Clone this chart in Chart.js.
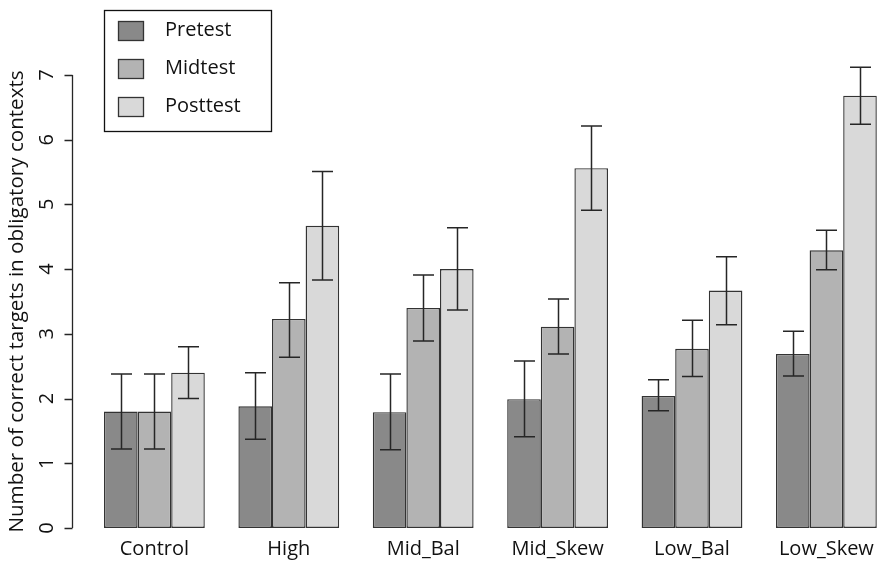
<!DOCTYPE html>
<html>
<head>
<meta charset="utf-8">
<script src="https://cdn.jsdelivr.net/npm/chart.js@4"></script>
<style>
  html, body { margin: 0; padding: 0; background: #fff; overflow: hidden; }
  #wrap { width: 878px; height: 565px; overflow: hidden; position: relative; }
  #scoreChart { position: absolute; left: 0; top: 0; }
</style>
</head>
<body>
<div id="wrap"><canvas id="scoreChart" width="920" height="565"></canvas></div>
<script>
const categories = ['Control', 'High', 'Mid_Bal', 'Mid_Skew', 'Low_Bal', 'Low_Skew'];
const seriesNames = ['Pretest', 'Midtest', 'Posttest'];
const seriesColors = ['#898989', '#b3b3b3', '#d9d9d9'];

const pretest = [1.80, 1.88, 1.79, 1.99, 2.04, 2.69];
const midtest = [1.80, 3.23, 3.40, 3.11, 2.77, 4.29];
const posttest = [2.40, 4.67, 4.00, 5.56, 3.67, 6.68];

// error bar ends
const pretestLow = [1.22, 1.37, 1.21, 1.41, 1.81, 2.35];
const pretestHigh = [2.38, 2.40, 2.38, 2.58, 2.29, 3.04];
const midtestLow = [1.22, 2.64, 2.89, 2.69, 2.34, 3.99];
const midtestHigh = [2.38, 3.79, 3.91, 3.54, 3.21, 4.60];
const posttestLow = [2.00, 3.83, 3.37, 4.91, 3.14, 6.24];
const posttestHigh = [2.80, 5.51, 4.64, 6.21, 4.19, 7.12];

const yTicks = [0, 1, 2, 3, 4, 5, 6, 7];
const yTitle = 'Number of correct targets in obligatory contexts';

const FONT = '"Open Sans", "Noto Sans", sans-serif';
const INK = '#262626';

const errLow = [pretestLow, midtestLow, posttestLow];
const errHigh = [pretestHigh, midtestHigh, posttestHigh];

// whiskers, axis, labels and legend drawn on top of the bars
const extras = {
    id: 'extras',
    afterDatasetsDraw(chart) {
        const ctx = chart.ctx;
        const y = chart.scales.y;
        const x = chart.scales.x;
        ctx.save();

        // error bars
        ctx.strokeStyle = INK;
        ctx.lineWidth = 1.5;
        chart.data.datasets.forEach((ds, d) => {
            const meta = chart.getDatasetMeta(d);
            meta.data.forEach((bar, i) => {
                const yl = y.getPixelForValue(errLow[d][i]);
                const yh = y.getPixelForValue(errHigh[d][i]);
                const cx = Math.round(bar.x) + 0.5;
                ctx.beginPath();
                ctx.moveTo(cx, yl);
                ctx.lineTo(cx, yh);
                ctx.moveTo(cx - 10.5, yh);
                ctx.lineTo(cx + 10.5, yh);
                ctx.moveTo(cx - 10.5, yl);
                ctx.lineTo(cx + 10.5, yl);
                ctx.stroke();
            });
        });

        // y axis
        const axisX = 72.5;
        ctx.lineWidth = 1.3;
        ctx.beginPath();
        ctx.moveTo(axisX, y.getPixelForValue(yTicks[0]));
        ctx.lineTo(axisX, y.getPixelForValue(yTicks[yTicks.length - 1]));
        yTicks.forEach(t => {
            const py = Math.round(y.getPixelForValue(t)) + 0.5;
            ctx.moveTo(axisX, py);
            ctx.lineTo(axisX - 8, py);
        });
        ctx.stroke();

        ctx.fillStyle = '#111';
        ctx.font = '20px ' + FONT;
        ctx.textAlign = 'center';
        ctx.textBaseline = 'middle';
        yTicks.forEach(t => {
            ctx.save();
            ctx.translate(47, y.getPixelForValue(t));
            ctx.rotate(-Math.PI / 2);
            ctx.fillText(String(t), 0, 0);
            ctx.restore();
        });

        ctx.save();
        ctx.font = '20.6px ' + FONT;
        ctx.translate(17, (y.getPixelForValue(0) + y.getPixelForValue(7)) / 2);
        ctx.rotate(-Math.PI / 2);
        ctx.fillText(yTitle, 0, 0);
        ctx.restore();

        // category labels
        categories.forEach((c, i) => {
            ctx.fillText(c, x.getPixelForValue(i), 549);
        });

        // legend
        ctx.lineWidth = 1.3;
        ctx.strokeStyle = '#111';
        ctx.strokeRect(104.5, 10.5, 167, 121);
        seriesNames.forEach((name, k) => {
            const top = 21.5 + k * 38;
            ctx.fillStyle = seriesColors[k];
            ctx.fillRect(118.5, top, 25, 19);
            ctx.strokeStyle = '#333';
            ctx.strokeRect(118.5, top, 25, 19);
            ctx.fillStyle = '#111';
            ctx.textAlign = 'left';
            ctx.fillText(name, 165, top + 9);
        });

        ctx.restore();
    }
};

const seriesValues = [pretest, midtest, posttest];

new Chart(document.getElementById('scoreChart').getContext('2d'), {
    type: 'bar',
    data: {
        labels: categories,
        datasets: seriesNames.map((name, k) => ({
            label: name,
            data: seriesValues[k],
            backgroundColor: seriesColors[k],
            borderColor: '#333333',
            borderWidth: 1.4,
            borderSkipped: false,
            categoryPercentage: 0.75,
            barPercentage: 1.0
        }))
    },
    options: {
        responsive: false,
        animation: false,
        layout: {
            padding: { left: 87.2, right: 26.4, top: 42.6, bottom: 37 }
        },
        plugins: {
            legend: { display: false },
            tooltip: { enabled: false }
        },
        scales: {
            x: { display: false },
            y: { display: false, min: 0, max: 7.5 }
        }
    },
    plugins: [extras]
});
</script>
</body>
</html>
